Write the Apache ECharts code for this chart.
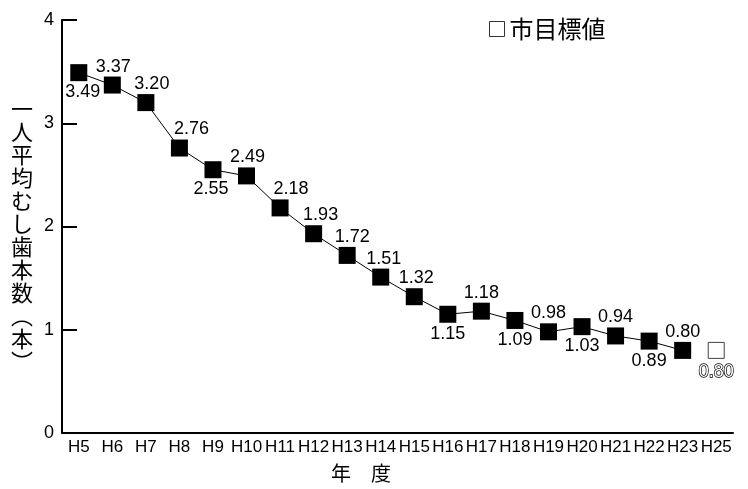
<!DOCTYPE html>
<html>
<head>
<meta charset="utf-8">
<script src="https://cdn.jsdelivr.net/npm/echarts@6/dist/echarts.min.js"></script>
<style>
  html, body { margin: 0; padding: 0; background: #fff; }
  #chart { width: 748px; height: 489px; }
</style>
</head>
<body>
<div id="chart"></div>
<script>
// Fiscal years (Heisei); H24 is not surveyed, H25 is the target year
const years = ['H5','H6','H7','H8','H9','H10','H11','H12','H13','H14','H15','H16','H17','H18','H19','H20','H21','H22','H23','H25'];
// Average number of decayed teeth per person, H5..H23
const actual = [3.49, 3.37, 3.20, 2.76, 2.55, 2.49, 2.18, 1.93, 1.72, 1.51, 1.32, 1.15, 1.18, 1.09, 0.98, 1.03, 0.94, 0.89, 0.80];
// City target for H25
const targetYear = 'H25';
const targetValue = 0.80;
const yTicks = [0, 1, 2, 3, 4];

// Which side of each marker its value label sits on, plus a small sideways nudge
const labelSide = ['bottom','top','top','top','bottom','top','top','top','top','top','top','bottom','top','bottom','top','bottom','top','bottom','top'];
const labelNudge = [4, 1, 6, 12, -2, 1, 11, 7, 5, 3, 2, 0, 0, 0, 0, 0, 0, 0, 0];

const numFont = '"Liberation Sans", Arial, sans-serif';
const cjkFont = '"Noto Sans CJK JP", "Noto Sans CJK SC", sans-serif';

const actualData = actual.map((v, i) => ({
  value: [years[i], v],
  label: {
    position: labelSide[i],
    distance: labelSide[i] === 'top' ? 1 : 2,
    offset: [labelNudge[i], 0]
  }
}));

const chart = echarts.init(document.getElementById('chart'), null, { renderer: 'canvas' });

chart.setOption({
  animation: false,
  backgroundColor: '#fff',
  grid: { left: 62, right: 15, top: 20, bottom: 56, containLabel: false },
  legend: {
    left: 484,
    top: 12,
    itemWidth: 15,
    itemHeight: 15,
    data: [{
      name: '市目標値',
      icon: 'rect',
      itemStyle: { color: '#fff', borderColor: '#333', borderWidth: 1 }
    }],
    textStyle: { fontFamily: cjkFont, fontSize: 24, color: '#000', lineHeight: 24 }
  },
  xAxis: {
    type: 'category',
    data: years,
    boundaryGap: true,
    axisLine: { lineStyle: { color: '#000', width: 2 } },
    axisTick: { inside: true, length: 10, alignWithLabel: true, lineStyle: { color: '#000', width: 2 } },
    axisLabel: { color: '#000', fontFamily: numFont, fontSize: 17, margin: 6, interval: 0 },
    splitLine: { show: false }
  },
  yAxis: {
    type: 'value',
    min: yTicks[0],
    max: yTicks[yTicks.length - 1],
    interval: 1,
    axisLine: { show: true, lineStyle: { color: '#000', width: 2 } },
    axisTick: { show: true, inside: true, length: 15, lineStyle: { color: '#000', width: 2 } },
    axisLabel: { color: '#000', fontFamily: numFont, fontSize: 18, margin: 8 },
    splitLine: { show: false }
  },
  graphic: [
    {
      type: 'text',
      left: 11,
      top: 97,
      style: {
        text: ['一','人','平','均','む','し','歯','本','数','︵','本','︶'].join('\n'),
        font: '22px ' + cjkFont,
        lineHeight: 23,
        fill: '#000',
        align: 'center'
      }
    },
    {
      type: 'text',
      left: 331,
      top: 463,
      style: {
        text: '年　度',
        font: '20px ' + cjkFont,
        fill: '#000'
      }
    }
  ],
  series: [
    {
      name: '実績',
      type: 'line',
      data: actualData,
      symbol: 'rect',
      symbolSize: 17,
      itemStyle: { color: '#000' },
      lineStyle: { color: '#000', width: 1 },
      label: {
        show: true,
        color: '#000',
        fontFamily: numFont,
        fontSize: 18,
        formatter: p => p.value[1].toFixed(2)
      },
      z: 3
    },
    {
      name: '市目標値',
      type: 'line',
      data: [[targetYear, targetValue]],
      symbol: 'rect',
      symbolSize: 16,
      itemStyle: { color: '#fff', borderColor: '#444', borderWidth: 1 },
      lineStyle: { width: 0 },
      label: {
        show: true,
        position: 'bottom',
        distance: 4,
        fontFamily: numFont,
        fontSize: 18,
        color: '#fff',
        textBorderColor: '#000',
        textBorderWidth: 1.4,
        formatter: p => p.value[1].toFixed(2)
      },
      z: 3
    }
  ]
});
</script>
</body>
</html>
